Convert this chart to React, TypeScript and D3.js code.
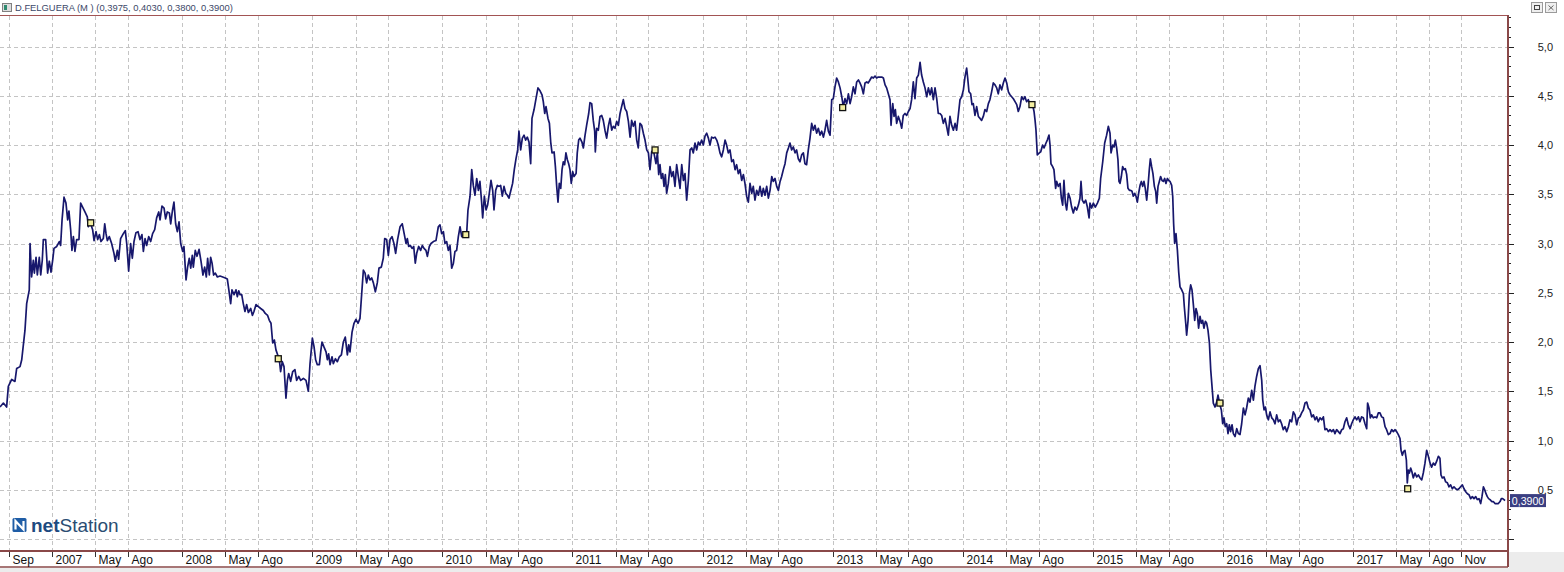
import React from "react";
import * as d3 from "d3";

// ---- data: [decimal year, close price] ----
const prices2006to2008: [number, number][] = [
  [2006.600,1.34],[2006.626,1.38],[2006.651,1.34],[2006.664,1.55],[2006.690,1.62],[2006.715,1.60],[2006.728,1.73],[2006.754,1.75],[2006.767,1.82],[2006.792,2.12],[2006.805,2.39],[2006.825,2.53],[2006.831,3.00],[2006.843,2.66],[2006.856,2.83],[2006.864,2.70],[2006.877,2.86],[2006.887,2.68],[2006.902,2.86],[2006.913,2.68],[2006.925,2.83],[2006.933,3.04],[2006.951,3.04],[2006.966,2.70],[2006.979,2.82],[2006.992,2.71],[2007.005,2.83],[2007.015,2.95],[2007.036,2.97],[2007.056,3.02],[2007.066,2.98],[2007.077,3.24],[2007.092,3.47],[2007.107,3.41],[2007.120,3.24],[2007.130,3.33],[2007.143,3.14],[2007.153,2.93],[2007.164,3.07],[2007.176,2.92],[2007.189,3.04],[2007.207,3.04],[2007.220,3.41],[2007.235,3.37],[2007.253,3.32],[2007.271,3.27],[2007.279,3.17],[2007.292,3.22],[2007.312,3.14],[2007.323,3.03],[2007.338,3.12],[2007.351,3.04],[2007.364,3.09],[2007.376,3.02],[2007.394,3.05],[2007.405,3.20],[2007.415,3.10],[2007.425,3.03],[2007.440,3.07],[2007.458,3.00],[2007.476,2.90],[2007.486,2.82],[2007.502,2.93],[2007.512,2.84],[2007.527,3.05],[2007.548,3.10],[2007.563,3.13],[2007.574,3.00],[2007.589,2.72],[2007.604,3.00],[2007.617,2.85],[2007.630,3.02],[2007.645,3.11],[2007.661,3.12],[2007.676,3.04],[2007.691,3.09],[2007.702,2.92],[2007.715,3.05],[2007.727,2.98],[2007.743,3.07],[2007.758,3.02],[2007.773,3.10],[2007.789,3.14],[2007.804,3.26],[2007.820,3.32],[2007.830,3.24],[2007.845,3.38],[2007.861,3.36],[2007.873,3.25],[2007.886,3.32],[2007.902,3.31],[2007.912,3.20],[2007.925,3.33],[2007.937,3.42],[2007.950,3.20],[2007.963,3.12],[2007.976,3.22],[2007.989,3.00],[2008.004,2.92],[2008.014,2.97],[2008.030,2.63],[2008.042,2.76],[2008.055,2.85],[2008.066,2.75],[2008.078,2.88],[2008.086,2.76],[2008.101,2.93],[2008.114,2.87],[2008.130,2.94],[2008.145,2.82],[2008.160,2.68],[2008.173,2.76],[2008.186,2.66],[2008.196,2.85],[2008.209,2.68],[2008.219,2.86],[2008.230,2.80],[2008.242,2.68],[2008.255,2.70],[2008.271,2.66],[2008.291,2.67],[2008.312,2.66],[2008.332,2.65],[2008.347,2.64],[2008.358,2.54],[2008.373,2.39],[2008.383,2.53],[2008.399,2.48],[2008.414,2.53],[2008.424,2.46],[2008.435,2.52],[2008.445,2.48],[2008.458,2.48],[2008.470,2.39],[2008.483,2.31],[2008.496,2.38],[2008.509,2.30],[2008.527,2.34],[2008.540,2.27],[2008.552,2.31],[2008.568,2.38],[2008.586,2.36],[2008.604,2.34],[2008.624,2.32],[2008.639,2.29],[2008.657,2.27],[2008.670,2.22],[2008.683,2.19],[2008.696,1.99],[2008.709,2.02],[2008.721,1.92],[2008.734,1.87],[2008.747,1.82],[2008.757,1.70],[2008.770,1.80],[2008.783,1.75],[2008.798,1.43],[2008.809,1.61],[2008.819,1.68],[2008.834,1.60],[2008.850,1.70],[2008.867,1.72],[2008.880,1.61],[2008.896,1.65],[2008.911,1.61],[2008.932,1.63],[2008.952,1.61]
];

const prices2009to2011: [number, number][] = [
  [2008.970,1.50],[2008.983,1.78],[2009.001,2.04],[2009.014,1.95],[2009.026,1.82],[2009.039,1.77],[2009.055,1.77],[2009.065,1.90],[2009.075,2.00],[2009.090,1.95],[2009.106,1.90],[2009.116,1.82],[2009.126,1.88],[2009.137,1.77],[2009.152,1.85],[2009.162,1.78],[2009.178,1.83],[2009.193,1.80],[2009.208,1.85],[2009.224,1.87],[2009.239,2.00],[2009.254,2.05],[2009.270,1.87],[2009.280,1.97],[2009.290,1.90],[2009.306,2.10],[2009.321,2.19],[2009.336,2.23],[2009.352,2.19],[2009.367,2.24],[2009.377,2.43],[2009.393,2.73],[2009.406,2.70],[2009.418,2.60],[2009.431,2.68],[2009.444,2.63],[2009.457,2.65],[2009.470,2.60],[2009.485,2.51],[2009.500,2.60],[2009.513,2.75],[2009.531,2.76],[2009.546,2.85],[2009.557,3.05],[2009.572,3.04],[2009.585,2.88],[2009.598,3.04],[2009.613,3.07],[2009.628,3.00],[2009.641,2.90],[2009.656,3.04],[2009.675,3.17],[2009.692,3.20],[2009.708,3.09],[2009.721,3.00],[2009.731,3.05],[2009.741,2.97],[2009.754,2.98],[2009.767,2.95],[2009.780,2.97],[2009.792,2.80],[2009.803,2.90],[2009.818,2.97],[2009.833,2.93],[2009.846,2.98],[2009.859,2.95],[2009.874,2.93],[2009.885,2.87],[2009.900,2.97],[2009.913,3.00],[2009.931,3.02],[2009.951,3.03],[2009.969,3.17],[2009.982,3.19],[2009.995,3.10],[2010.008,3.12],[2010.020,3.00],[2010.033,3.02],[2010.046,2.93],[2010.059,2.98],[2010.072,2.75],[2010.085,2.80],[2010.097,2.92],[2010.110,2.93],[2010.123,3.07],[2010.136,3.17],[2010.149,3.07],[2010.167,3.09],[2010.187,3.10],[2010.197,3.34],[2010.213,3.48],[2010.226,3.75],[2010.238,3.59],[2010.251,3.49],[2010.264,3.66],[2010.277,3.54],[2010.289,3.63],[2010.302,3.42],[2010.310,3.26],[2010.323,3.48],[2010.336,3.34],[2010.348,3.39],[2010.361,3.51],[2010.374,3.64],[2010.387,3.54],[2010.397,3.34],[2010.410,3.54],[2010.423,3.59],[2010.436,3.58],[2010.448,3.59],[2010.461,3.48],[2010.474,3.58],[2010.487,3.51],[2010.500,3.49],[2010.512,3.46],[2010.525,3.53],[2010.540,3.61],[2010.553,3.75],[2010.566,3.86],[2010.579,3.95],[2010.589,4.14],[2010.602,3.95],[2010.615,4.07],[2010.628,4.10],[2010.640,4.05],[2010.653,4.08],[2010.666,4.03],[2010.679,3.81],[2010.689,4.27],[2010.705,4.36],[2010.720,4.47],[2010.735,4.58],[2010.751,4.55],[2010.766,4.51],[2010.776,4.44],[2010.787,4.32],[2010.797,4.39],[2010.812,4.27],[2010.823,4.22],[2010.833,4.03],[2010.843,3.92],[2010.859,3.93],[2010.869,3.78],[2010.879,3.58],[2010.889,3.42],[2010.899,3.61],[2010.910,3.56],[2010.920,3.75],[2010.930,3.83],[2010.940,3.80],[2010.950,3.92],[2010.961,3.85],[2010.971,3.81],[2010.981,3.75],[2010.991,3.61],[2011.002,3.73],[2011.012,3.68],[2011.028,3.71],[2011.037,3.92],[2011.048,4.05],[2011.058,4.07],[2011.073,4.03],[2011.084,3.97],[2011.097,4.10],[2011.109,4.20],[2011.125,4.32],[2011.135,4.43],[2011.148,4.42],[2011.160,4.25],[2011.171,4.14],[2011.176,3.93],[2011.186,4.17],[2011.199,4.15]
];

const prices2011to2014: [number, number][] = [
  [2011.212,4.29],[2011.225,4.30],[2011.237,4.25],[2011.250,4.15],[2011.263,4.07],[2011.276,4.19],[2011.289,4.27],[2011.302,4.15],[2011.314,4.19],[2011.327,4.17],[2011.340,4.24],[2011.353,4.20],[2011.366,4.32],[2011.378,4.39],[2011.391,4.46],[2011.404,4.37],[2011.417,4.34],[2011.430,4.24],[2011.443,4.08],[2011.455,4.25],[2011.468,4.19],[2011.481,4.24],[2011.494,4.05],[2011.506,3.97],[2011.519,4.22],[2011.532,4.20],[2011.545,4.12],[2011.558,4.05],[2011.571,3.95],[2011.584,3.92],[2011.596,3.75],[2011.609,3.93],[2011.622,3.95],[2011.642,3.81],[2011.653,3.92],[2011.663,3.70],[2011.673,3.80],[2011.683,3.66],[2011.694,3.71],[2011.704,3.58],[2011.714,3.70],[2011.724,3.51],[2011.737,3.61],[2011.750,3.78],[2011.763,3.68],[2011.775,3.73],[2011.788,3.58],[2011.801,3.80],[2011.814,3.68],[2011.827,3.56],[2011.840,3.80],[2011.853,3.64],[2011.865,3.71],[2011.878,3.44],[2011.891,3.64],[2011.904,3.95],[2011.917,3.97],[2011.929,3.92],[2011.942,4.02],[2011.955,3.95],[2011.968,4.03],[2011.980,4.00],[2011.993,4.05],[2012.006,4.00],[2012.019,4.09],[2012.032,4.12],[2012.045,4.07],[2012.057,4.00],[2012.070,4.08],[2012.083,4.07],[2012.096,4.08],[2012.109,4.05],[2012.121,4.00],[2012.134,3.92],[2012.147,3.88],[2012.160,3.95],[2012.173,4.05],[2012.185,4.00],[2012.198,3.92],[2012.211,3.95],[2012.224,3.83],[2012.237,3.85],[2012.250,3.75],[2012.262,3.80],[2012.275,3.71],[2012.288,3.75],[2012.301,3.64],[2012.314,3.70],[2012.326,3.61],[2012.339,3.48],[2012.352,3.42],[2012.365,3.61],[2012.378,3.51],[2012.390,3.58],[2012.403,3.44],[2012.416,3.54],[2012.429,3.49],[2012.442,3.58],[2012.455,3.48],[2012.467,3.56],[2012.480,3.49],[2012.493,3.58],[2012.506,3.46],[2012.519,3.54],[2012.532,3.68],[2012.544,3.63],[2012.557,3.66],[2012.570,3.58],[2012.583,3.54],[2012.596,3.63],[2012.608,3.68],[2012.621,3.75],[2012.634,3.81],[2012.647,3.92],[2012.660,3.97],[2012.672,4.02],[2012.685,3.95],[2012.698,3.98],[2012.711,3.92],[2012.723,3.95],[2012.736,3.86],[2012.749,3.83],[2012.762,3.90],[2012.775,3.92],[2012.787,3.81],[2012.800,3.80],[2012.813,3.95],[2012.826,4.07],[2012.839,4.22],[2012.852,4.15],[2012.864,4.20],[2012.877,4.12],[2012.890,4.17],[2012.903,4.10],[2012.916,4.14],[2012.929,4.08],[2012.941,4.15],[2012.954,4.25],[2012.967,4.14],[2012.980,4.10],[2012.993,4.46],[2013.005,4.47],[2013.018,4.59],[2013.031,4.68],[2013.044,4.64],[2013.057,4.58],[2013.070,4.49],[2013.082,4.39],[2013.095,4.47],[2013.108,4.42],[2013.121,4.52],[2013.134,4.42],[2013.146,4.49],[2013.159,4.59],[2013.172,4.52],[2013.185,4.64],[2013.198,4.66],[2013.210,4.63],[2013.223,4.59],[2013.236,4.52],[2013.249,4.63],[2013.262,4.64],[2013.274,4.63],[2013.287,4.66],[2013.300,4.69],[2013.313,4.68],[2013.326,4.70],[2013.338,4.68],[2013.351,4.69],[2013.364,4.69],[2013.377,4.69],[2013.390,4.68],[2013.403,4.61],[2013.415,4.58],[2013.428,4.52],[2013.441,4.46],[2013.449,4.20],[2013.456,4.34],[2013.462,4.42],[2013.472,4.29],[2013.482,4.36],[2013.492,4.22],[2013.505,4.29],[2013.518,4.24],[2013.531,4.17],[2013.543,4.30],[2013.556,4.32],[2013.569,4.30],[2013.582,4.34],[2013.595,4.37],[2013.607,4.46],[2013.620,4.64],[2013.633,4.47],[2013.646,4.68],[2013.659,4.71],[2013.672,4.84],[2013.684,4.71],[2013.697,4.64],[2013.710,4.58],[2013.723,4.49],[2013.736,4.58],[2013.749,4.51],[2013.761,4.58],[2013.774,4.46],[2013.787,4.58],[2013.800,4.47],[2013.812,4.32],[2013.825,4.32],[2013.838,4.30],[2013.851,4.22],[2013.864,4.27],[2013.876,4.19],[2013.889,4.10],[2013.902,4.29],[2013.915,4.20],[2013.928,4.15],[2013.941,4.22],[2013.953,4.15],[2013.966,4.30],[2013.979,4.46],[2013.992,4.49],[2014.005,4.56],[2014.017,4.69],[2014.030,4.78],[2014.038,4.68],[2014.048,4.54],[2014.061,4.52],[2014.071,4.41],[2014.081,4.42],[2014.094,4.30],[2014.107,4.39],[2014.120,4.29],[2014.133,4.27],[2014.145,4.25],[2014.158,4.29],[2014.171,4.36],[2014.184,4.34],[2014.197,4.42],[2014.209,4.46],[2014.222,4.54],[2014.235,4.63],[2014.248,4.61],[2014.261,4.58],[2014.273,4.52],[2014.286,4.61],[2014.299,4.56],[2014.312,4.63],[2014.325,4.68],[2014.338,4.63],[2014.351,4.54],[2014.363,4.51],[2014.376,4.49],[2014.389,4.47],[2014.402,4.44],[2014.415,4.41],[2014.427,4.34],[2014.440,4.39],[2014.453,4.49],[2014.466,4.46],[2014.478,4.49],[2014.491,4.44],[2014.504,4.46],[2014.517,4.41],[2014.537,4.41],[2014.548,4.34],[2014.556,4.25],[2014.563,4.15],[2014.573,3.90]
];

const prices2014to2016: [number, number][] = [
  [2014.589,3.92],[2014.599,3.93],[2014.614,4.00],[2014.625,3.97],[2014.640,4.02],[2014.650,4.05],[2014.663,4.10],[2014.671,4.00],[2014.678,3.81],[2014.691,3.78],[2014.701,3.75],[2014.714,3.56],[2014.722,3.63],[2014.735,3.58],[2014.748,3.61],[2014.758,3.46],[2014.768,3.39],[2014.778,3.64],[2014.789,3.41],[2014.799,3.34],[2014.812,3.51],[2014.825,3.46],[2014.837,3.37],[2014.850,3.31],[2014.863,3.37],[2014.876,3.34],[2014.889,3.39],[2014.901,3.46],[2014.909,3.63],[2014.919,3.44],[2014.932,3.41],[2014.945,3.44],[2014.958,3.37],[2014.971,3.26],[2014.978,3.41],[2014.991,3.36],[2015.004,3.41],[2015.019,3.37],[2015.035,3.41],[2015.050,3.46],[2015.060,3.66],[2015.076,3.83],[2015.091,4.02],[2015.106,4.10],[2015.119,4.19],[2015.132,4.12],[2015.140,3.92],[2015.153,4.00],[2015.163,3.98],[2015.173,4.05],[2015.183,3.97],[2015.193,3.85],[2015.201,3.63],[2015.209,3.61],[2015.219,3.68],[2015.229,3.78],[2015.240,3.75],[2015.250,3.76],[2015.260,3.70],[2015.270,3.56],[2015.281,3.54],[2015.291,3.54],[2015.301,3.53],[2015.311,3.48],[2015.322,3.51],[2015.332,3.48],[2015.342,3.42],[2015.352,3.51],[2015.363,3.59],[2015.373,3.63],[2015.383,3.58],[2015.393,3.63],[2015.403,3.56],[2015.414,3.44],[2015.424,3.58],[2015.434,3.75],[2015.442,3.86],[2015.452,3.78],[2015.462,3.71],[2015.473,3.58],[2015.483,3.53],[2015.491,3.41],[2015.501,3.58],[2015.511,3.63],[2015.521,3.68],[2015.532,3.64],[2015.542,3.63],[2015.552,3.66],[2015.562,3.61],[2015.573,3.66],[2015.583,3.64],[2015.593,3.63],[2015.606,3.59],[2015.614,3.48],[2015.621,3.20],[2015.629,3.00],[2015.639,3.10],[2015.650,2.93],[2015.660,2.71],[2015.670,2.56],[2015.683,2.53],[2015.696,2.49],[2015.703,2.36],[2015.714,2.19],[2015.721,2.07],[2015.732,2.22],[2015.742,2.49],[2015.752,2.58],[2015.762,2.53],[2015.772,2.39],[2015.783,2.22],[2015.793,2.34],[2015.803,2.29],[2015.813,2.14],[2015.824,2.26],[2015.834,2.19],[2015.844,2.22],[2015.854,2.14],[2015.865,2.21],[2015.875,2.19],[2015.885,2.12],[2015.896,1.99],[2015.906,1.72],[2015.916,1.55],[2015.926,1.38],[2015.939,1.34],[2015.952,1.39],[2015.962,1.46],[2015.977,1.36],[2015.988,1.31],[2015.998,1.17],[2016.008,1.23],[2016.018,1.14],[2016.029,1.17],[2016.039,1.07],[2016.049,1.16],[2016.059,1.09],[2016.070,1.16],[2016.080,1.07],[2016.093,1.04],[2016.106,1.12],[2016.118,1.07],[2016.131,1.06],[2016.144,1.17],[2016.157,1.33],[2016.170,1.26],[2016.182,1.33],[2016.195,1.43],[2016.208,1.39],[2016.221,1.51],[2016.234,1.41],[2016.246,1.55],[2016.259,1.65],[2016.272,1.73],[2016.285,1.76],[2016.298,1.61],[2016.306,1.41],[2016.316,1.31],[2016.326,1.34],[2016.336,1.26],[2016.349,1.21],[2016.362,1.29],[2016.375,1.23],[2016.388,1.21],[2016.400,1.17],[2016.413,1.26],[2016.426,1.19]
];

const prices2016to2018: [number, number][] = [
  [2016.439,1.21],[2016.451,1.17],[2016.464,1.11],[2016.477,1.14],[2016.490,1.09],[2016.503,1.14],[2016.515,1.21],[2016.528,1.19],[2016.541,1.29],[2016.554,1.26],[2016.567,1.16],[2016.580,1.23],[2016.592,1.24],[2016.605,1.28],[2016.618,1.31],[2016.631,1.38],[2016.644,1.39],[2016.656,1.33],[2016.669,1.31],[2016.682,1.24],[2016.695,1.26],[2016.708,1.21],[2016.720,1.24],[2016.733,1.19],[2016.746,1.23],[2016.759,1.21],[2016.772,1.24],[2016.784,1.11],[2016.797,1.12],[2016.810,1.09],[2016.823,1.11],[2016.836,1.09],[2016.849,1.11],[2016.861,1.07],[2016.874,1.11],[2016.887,1.09],[2016.900,1.07],[2016.913,1.11],[2016.925,1.12],[2016.938,1.19],[2016.951,1.23],[2016.964,1.16],[2016.977,1.12],[2016.989,1.17],[2017.002,1.21],[2017.015,1.24],[2017.028,1.21],[2017.041,1.24],[2017.053,1.19],[2017.066,1.24],[2017.079,1.23],[2017.092,1.17],[2017.105,1.12],[2017.112,1.38],[2017.123,1.33],[2017.133,1.23],[2017.143,1.26],[2017.156,1.23],[2017.169,1.24],[2017.182,1.23],[2017.194,1.28],[2017.207,1.28],[2017.220,1.24],[2017.233,1.23],[2017.246,1.14],[2017.258,1.11],[2017.271,1.06],[2017.284,1.07],[2017.297,1.11],[2017.310,1.09],[2017.322,1.11],[2017.335,1.09],[2017.348,1.06],[2017.361,1.02],[2017.369,0.90],[2017.379,0.85],[2017.389,0.89],[2017.399,0.90],[2017.410,0.80],[2017.417,0.57],[2017.425,0.70],[2017.433,0.67],[2017.443,0.72],[2017.453,0.68],[2017.463,0.62],[2017.476,0.67],[2017.489,0.63],[2017.502,0.65],[2017.515,0.62],[2017.528,0.60],[2017.540,0.67],[2017.553,0.77],[2017.566,0.90],[2017.579,0.84],[2017.592,0.77],[2017.604,0.73],[2017.617,0.77],[2017.630,0.75],[2017.643,0.79],[2017.656,0.84],[2017.668,0.82],[2017.676,0.65],[2017.686,0.62],[2017.699,0.63],[2017.712,0.58],[2017.725,0.57],[2017.738,0.53],[2017.750,0.55],[2017.763,0.51],[2017.776,0.53],[2017.789,0.51],[2017.802,0.50],[2017.814,0.51],[2017.827,0.53],[2017.840,0.55],[2017.853,0.51],[2017.866,0.48],[2017.879,0.46],[2017.891,0.45],[2017.904,0.41],[2017.917,0.43],[2017.930,0.41],[2017.943,0.43],[2017.955,0.40],[2017.968,0.41],[2017.981,0.36],[2017.991,0.43],[2018.002,0.53],[2018.012,0.50],[2018.022,0.46],[2018.032,0.43],[2018.042,0.41],[2018.053,0.40],[2018.066,0.38],[2018.078,0.38],[2018.091,0.36],[2018.104,0.36],[2018.117,0.36],[2018.130,0.38],[2018.140,0.41],[2018.150,0.41],[2018.160,0.40],[2018.168,0.39]
];

// corporate-event markers
const eventMarkers: [number, number][] = [
  [2007.297,3.21],[2008.739,1.83],[2010.180,3.09],[2011.635,3.95],[2013.077,4.38],[2014.532,4.41],[2015.977,1.38],[2017.420,0.51]
];

// x-axis ticks
const tickLabels = ["Sep","2007","May","Ago","2008","May","Ago","2009","May","Ago","2010","May","Ago","2011","May","Ago","2012","May","Ago","2013","May","Ago","2014","May","Ago","2015","May","Ago","2016","May","Ago","2017","May","Ago","Nov"];
const tickTimes = [2006.667,2007,2007.333,2007.583,2008,2008.333,2008.583,2009,2009.333,2009.583,2010,2010.333,2010.583,2011,2011.333,2011.583,2012,2012.333,2012.583,2013,2013.333,2013.583,2014,2014.333,2014.583,2015,2015.333,2015.583,2016,2016.333,2016.583,2017,2017.333,2017.583,2017.833];

// y-axis
const yGridValues = [0,0.5,1,1.5,2,2.5,3,3.5,4,4.5,5];
const yLabelValues = [0.5,1,1.5,2,2.5,3,3.5,4,4.5,5];

const tickerName = "D.FELGUERA";
const ohlc = [0.3975, 0.4030, 0.3800, 0.3900];
const lastClose = 0.39;

const fmtEs = (v: number, d: number) => v.toFixed(d).replace(".", ",");

export default function App() {
  const W = 1564, H = 572;
  const plotL = 0, plotR = 1508, plotT = 15, plotB = 550;
  const pxPerYear = 130.1;
  const t0 = 2006.6;
  const x = d3.scaleLinear().domain([t0, t0 + (plotR - plotL) / pxPerYear]).range([plotL, plotR]);
  const y = d3.scaleLinear().domain([0, 5]).range([539, 46.5]);

  const series = [
    ...prices2006to2008, ...prices2009to2011, ...prices2011to2014,
    ...prices2014to2016, ...prices2016to2018,
  ];
  const line = d3.line<[number, number]>().x(d => x(d[0])).y(d => y(d[1]));

  const minorTicks = d3.range(0, 54).map(i => i / 10).filter(v => y(v) >= plotT && y(v) <= plotB);
  const frame = "#8a4848";
  const font = "Arial, 'Liberation Sans', Helvetica, sans-serif";
  const headerText = `${tickerName} (M ) (${ohlc.map(v => fmtEs(v, 4)).join(", ")})`;

  const yLast = y(lastClose);

  return (
    <svg width={W} height={H} style={{ position: "fixed", left: 0, top: 0, background: "#ffffff" }} fontFamily={font}>
      <defs>
        <clipPath id="plotClip">
          <rect x={plotL} y={plotT + 1} width={plotR - plotL - 1} height={plotB - plotT - 1} />
        </clipPath>
      </defs>
      <rect x={0} y={0} width={W} height={H} fill="#ffffff" />
      {/* bottom/right grey areas */}
      <rect x={plotR + 1} y={plotB + 2} width={W - plotR - 1} height={H - plotB - 2} fill="#ececec" />
      <rect x={0} y={568} width={W} height={H - 568} fill="#ececec" />

      {/* header */}
      <rect x={2.5} y={3.5} width={9} height={8} fill="#dcdcdc" stroke="#808080" strokeWidth={1} />
      <rect x={4} y={5} width={3} height={5} fill="#2f8a70" />
      <text x={15} y={11} fontSize={9.4} fill="#3c4868">{headerText}</text>
      {/* window buttons */}
      <rect x={1531.5} y={2.5} width={11} height={10} fill="#efefef" stroke="#9a9a9a" />
      <rect x={1534.5} y={5.5} width={5} height={4} fill="none" stroke="#444" strokeWidth={1} />
      <rect x={1545.5} y={2.5} width={11} height={10} fill="#efefef" stroke="#9a9a9a" />
      <path d="M1548.5,5.5 L1553.5,10 M1553.5,5.5 L1548.5,10" stroke="#666" strokeWidth={1} />

      {/* grid */}
      <g stroke="#c4c4c4" strokeWidth={1} strokeDasharray="4,3">
        {yGridValues.map(v => (
          <line key={"hg" + v} x1={plotL} x2={plotR} y1={Math.round(y(v)) + 0.5} y2={Math.round(y(v)) + 0.5} />
        ))}
        {tickTimes.map((t, i) => (
          <line key={"vg" + i} x1={Math.round(x(t)) + 0.5} x2={Math.round(x(t)) + 0.5} y1={plotT + 1} y2={plotB} />
        ))}
      </g>

      {/* price line */}
      <g clipPath="url(#plotClip)">
        <path d={line(series) || ""} fill="none" stroke="#17176c" strokeWidth={1.7} strokeLinejoin="round" />
        {eventMarkers.map((d, i) => (
          <rect key={"ev" + i} x={x(d[0]) - 3} y={y(d[1]) - 3} width={6} height={6} fill="#f3eea0" stroke="#111" strokeWidth={1.3} />
        ))}
      </g>

      {/* logo */}
      <g>
        <rect x={12.5} y={518} width={14} height={14} rx={1.5} fill="#1f5da6" />
        <path d="M15.5,529.5 L15.5,521 L23.5,529.5 L23.5,521" fill="none" stroke="#ffffff" strokeWidth={2.2} strokeLinejoin="miter" />
        <text x={31} y={532} fontSize={19} fill="#1d4a80">
          <tspan fontWeight="bold">net</tspan>
          <tspan fill="#2a4d72">Station</tspan>
        </text>
      </g>

      {/* frame */}
      <line x1={0} x2={plotR} y1={plotT + 0.5} y2={plotT + 0.5} stroke="#a25454" strokeWidth={1} />
      <line x1={plotR} x2={plotR} y1={plotT} y2={567} stroke={frame} strokeWidth={2} />
      <line x1={0} x2={plotR} y1={plotB + 1} y2={plotB + 1} stroke={frame} strokeWidth={2} />
      <line x1={0} x2={plotR} y1={567} y2={567} stroke={frame} strokeWidth={1.5} />

      {/* x axis ticks & labels */}
      {tickTimes.map((t, i) => {
        const xp = Math.round(x(t)) + 0.5;
        return (
          <g key={"xt" + i}>
            <line x1={xp} x2={xp} y1={plotB + 2} y2={plotB + 7} stroke="#333" strokeWidth={1} />
            <text x={xp + 3} y={564} fontSize={12} fill="#111">{tickLabels[i]}</text>
          </g>
        );
      })}

      {/* y axis ticks & labels */}
      {minorTicks.map((v, i) => {
        const major = Math.abs(v * 2 - Math.round(v * 2)) < 1e-6;
        const yp = Math.round(y(v)) + 0.5;
        return <line key={"yt" + i} x1={plotR + 1} x2={plotR + (major ? 6 : 3)} y1={yp} y2={yp} stroke="#222" strokeWidth={1} />;
      })}
      {yLabelValues.map(v => (
        <text key={"yl" + v} x={1553} y={y(v) + 4} fontSize={11} textAnchor="end" fill="#222">{fmtEs(v, 1)}</text>
      ))}

      {/* last price tag */}
      <rect x={1510} y={yLast - 6.5} width={36} height={13} fill="#3b3f82" />
      <text x={1528} y={yLast + 4} fontSize={10.6} textAnchor="middle" fill="#ffffff">{fmtEs(lastClose, 4)}</text>
    </svg>
  );
}
